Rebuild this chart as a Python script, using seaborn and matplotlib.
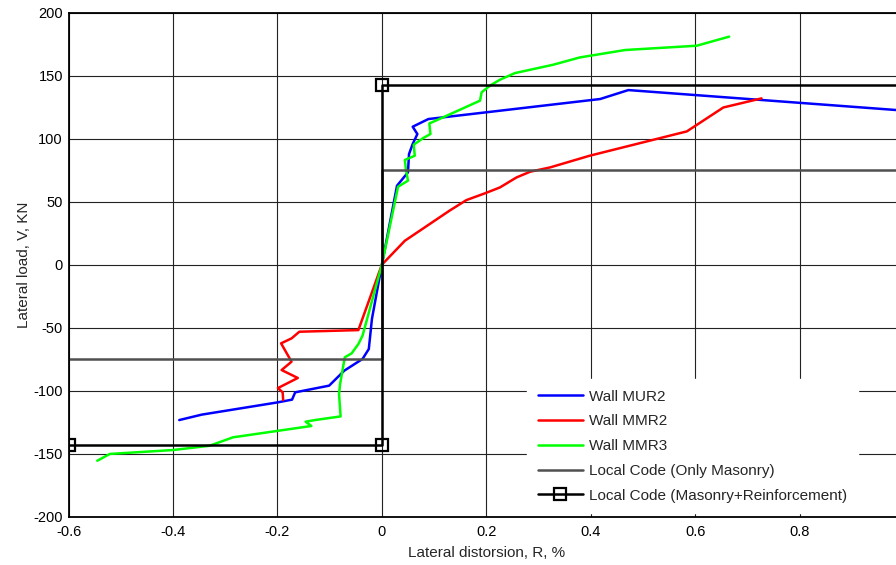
import matplotlib
matplotlib.use("Agg")
import matplotlib.pyplot as plt
import numpy as np
import pandas as pd
import seaborn as sns

# Wall MUR2 (blue)
mur2_x = [-0.388, -0.345, -0.200, -0.172, -0.166, -0.101, -0.072, -0.037, -0.025, -0.019, 0.0,
          0.029, 0.050, 0.052, 0.059, 0.068, 0.059, 0.089, 0.418, 0.472, 1.0]
mur2_y = [-123.3, -119.0, -109.3, -107.1, -101.3, -96.0, -84.1, -74.8, -66.9, -43.0, 0.0,
          62.7, 73.3, 87.8, 95.8, 103.7, 109.5, 115.6, 131.5, 138.6, 122.3]

# Wall MMR2 (red)
mmr2_x = [-0.189, -0.190, -0.199, -0.161, -0.192, -0.173, -0.193, -0.173, -0.158, -0.045, 0.0,
          0.044, 0.130, 0.162, 0.197, 0.226, 0.258, 0.284, 0.322, 0.398, 0.584, 0.654, 0.727]
mmr2_y = [-107.4, -101.3, -97.9, -89.9, -83.6, -77.0, -62.4, -58.5, -53.2, -51.9, 0.0,
          19.0, 43.0, 51.3, 56.6, 61.3, 69.3, 73.8, 77.2, 86.5, 105.8, 124.8, 132.0]

# Wall MMR3 (green)
mmr3_x = [-0.545, -0.521, -0.400, -0.330, -0.285, -0.135, -0.146, -0.128, -0.079, -0.082,
          -0.080, -0.071, -0.058, -0.045, -0.037, 0.0,
          0.031, 0.050, 0.046, 0.044, 0.063, 0.061, 0.079, 0.093, 0.091, 0.117, 0.188,
          0.191, 0.207, 0.226, 0.255, 0.328, 0.379, 0.466, 0.603, 0.665]
mmr3_y = [-155.6, -150.2, -147.1, -143.7, -137.0, -128.0, -124.6, -123.3, -120.4, -102.6,
          -94.7, -73.5, -70.4, -63.0, -56.3, 0.0,
          61.9, 66.7, 75.9, 83.1, 86.5, 95.2, 100.5, 103.7, 112.1, 116.9, 130.2,
          136.8, 142.1, 146.8, 152.1, 158.7, 164.5, 170.4, 173.8, 181.0]

# local code limits
masonry_x = [-0.6, 0.0, 0.0, 1.0]
masonry_y = [-75, -75, 75, 75]
reinf_x = [-0.6, 0.0, 0.0, 1.0]
reinf_y = [-143, -143, 143, 143]

x_ticklabels = ["-0.6", "-0.4", "-0.2", "0", "0.2", "0.4", "0.6", "0.8", ""]

sns.set_style("white")
plt.rcParams["font.family"] = ["Liberation Sans", "DejaVu Sans"]
plt.rcParams["axes.unicode_minus"] = False

fig = plt.figure(figsize=(8.96, 5.65), dpi=100)
ax = fig.add_axes([0.0765, 0.0855, 0.9325, 0.892])

ax.grid(True, color="#222222", linewidth=0.8)
ax.set_axisbelow(True)

sns.lineplot(x=mur2_x, y=mur2_y, sort=False, estimator=None, color="#0000ff",
             linewidth=1.8, ax=ax, label="Wall MUR2")
sns.lineplot(x=mmr2_x, y=mmr2_y, sort=False, estimator=None, color="#ff0000",
             linewidth=1.8, ax=ax, label="Wall MMR2")
sns.lineplot(x=mmr3_x, y=mmr3_y, sort=False, estimator=None, color="#00ff00",
             linewidth=1.8, ax=ax, label="Wall MMR3")
sns.lineplot(x=masonry_x, y=masonry_y, sort=False, estimator=None, color="#505050",
             linewidth=1.8, ax=ax, label="Local Code (Only Masonry)")
sns.lineplot(x=reinf_x, y=reinf_y, sort=False, estimator=None, color="black",
             linewidth=1.8, marker="s", markersize=8, markerfacecolor="none",
             markeredgecolor="black", markeredgewidth=1.6, ax=ax,
             label="Local Code (Masonry+Reinforcement)")

ax.set_xlim(-0.6, 1.0)
ax.set_ylim(-200, 200)
ax.set_xticks(np.arange(-0.6, 1.01, 0.2))
ax.set_xticklabels(x_ticklabels)
ax.set_yticks(np.arange(-200, 201, 50))
ax.tick_params(direction="in", length=5, width=0.8, colors="black", labelsize=10.5)
ax.tick_params(axis="x", pad=6)
ax.tick_params(axis="y", pad=4)
for s in ax.spines.values():
    s.set_color("black")
    s.set_linewidth(1.3)

ax.set_xlabel("Lateral distorsion, R, %", fontsize=11, labelpad=5)
ax.set_ylabel("Lateral load, V, KN", fontsize=11, labelpad=2)

leg = ax.legend(loc="upper left", bbox_to_anchor=(0.549, 0.273), borderaxespad=0,
                frameon=True, fancybox=False, framealpha=1, edgecolor="white",
                handlelength=2.95, handletextpad=0.4, labelspacing=0.7, fontsize=11,
                borderpad=0.7)

fig.savefig("out.png", dpi=100, facecolor="white")
